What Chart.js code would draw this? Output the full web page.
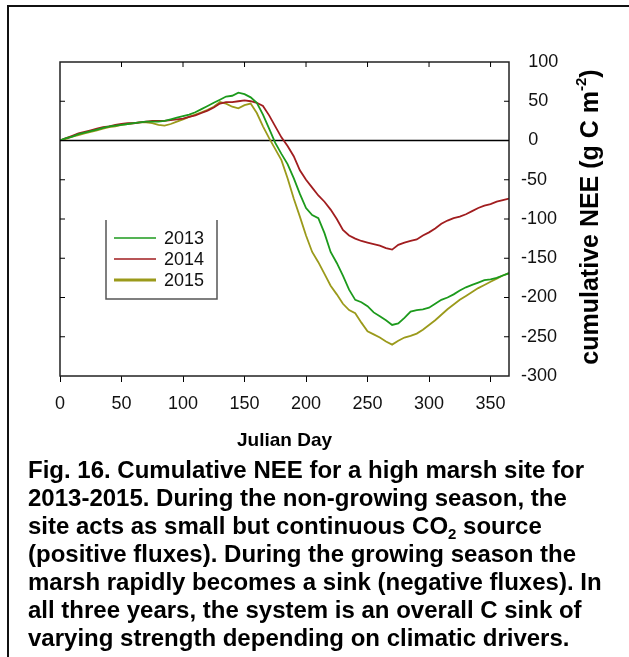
<!DOCTYPE html>
<html>
<head>
<meta charset="utf-8">
<script src="https://cdn.jsdelivr.net/npm/chart.js@4.4.1/dist/chart.umd.min.js"></script>
<style>
  html, body { margin: 0; padding: 0; background: #fff; }
  #fig { position: relative; width: 629px; height: 657px; overflow: hidden;
         font-family: "Liberation Sans", Arial, sans-serif; }
  #frameTop { position: absolute; left: 7px; top: 5px; right: 0; height: 2px; background: #111; }
  #frameLeft { position: absolute; left: 7px; top: 5px; width: 2px; bottom: 0; background: #111; }
  #chartBox { position: absolute; left: 0; top: 0; width: 629px; height: 460px; }
  #caption { position: absolute; left: 28px; top: 456px; font-weight: bold; font-size: 24px;
             line-height: 28px; color: #000; white-space: nowrap; }
  #caption sub { font-size: 15px; line-height: 0; vertical-align: baseline; position: relative; top: 5px; }
</style>
</head>
<body>
<div id="fig">
  <div id="chartBox"><canvas id="c" width="629" height="460"></canvas></div>
  <div id="frameTop"></div>
  <div id="frameLeft"></div>
  <div id="caption">
    <div>Fig. 16. Cumulative NEE for a high marsh site for</div>
    <div>2013-2015. During the non-growing season, the</div>
    <div>site acts as small but continuous CO<sub>2</sub> source</div>
    <div>(positive fluxes). During the growing season the</div>
    <div>marsh rapidly becomes a sink (negative fluxes). In</div>
    <div>all three years, the system is an overall C sink of</div>
    <div>varying strength depending on climatic drivers.</div>
  </div>
</div>
<script>
// Julian day of each sample
const days = [0,5,10,15,20,25,30,35,40,45,50,55,60,65,70,75,80,85,90,95,
  100,105,110,115,120,125,130,135,140,145,150,155,160,165,170,175,180,185,190,195,
  200,205,210,215,220,225,230,235,240,245,250,255,260,265,270,275,280,285,290,295,
  300,305,310,315,320,325,330,335,340,345,350,355,360,365];

// cumulative NEE (g C m-2)
const nee2013 = [0,3,5,8,10,12,14,16,18,19,20,21,22,23,24,24,24,25,27,29,
  31,33,36,40,44,48,52,56,57,61,59,55,48,33,15,-3,-17,-30,-48,-68,
  -86,-95,-99,-118,-142,-156,-172,-190,-203,-206,-211,-219,-224,-229,-235,-233,-226,-218,-216,-215,
  -213,-208,-203,-200,-196,-191,-187,-184,-181,-178,-177,-175,-172,-169];
const nee2014 = [0,3,6,9,11,13,15,17,18,20,21,22,22,23,24,25,25,25,26,27,
  28,30,32,35,38,42,47,49,49,50,51,50,48,44,32,18,4,-7,-20,-38,
  -50,-60,-70,-78,-88,-100,-114,-121,-125,-128,-130,-132,-134,-137,-139,-133,-130,-128,-126,-121,
  -117,-112,-106,-102,-99,-97,-94,-90,-86,-83,-81,-78,-76,-74];
const nee2015 = [0,2,5,7,9,11,13,15,17,18,20,21,22,23,23,22,20,19,21,24,
  27,30,33,36,39,43,49,47,43,41,45,47,35,18,3,-11,-25,-48,-74,-97,
  -121,-142,-155,-170,-185,-196,-208,-216,-220,-232,-243,-247,-251,-256,-260,-255,-251,-249,-246,-241,
  -235,-229,-222,-215,-209,-203,-198,-193,-188,-184,-180,-176,-172,-169];

const seriesNames = ['2013', '2014', '2015'];
const xTicks = [0, 50, 100, 150, 200, 250, 300, 350];
const yTicks = [100, 50, 0, -50, -100, -150, -200, -250, -300];

const FONT = '"Liberation Sans", Arial, sans-serif';
const colors = ['#1c9a1c', '#a11d1f', '#9b9a1b'];
const legendWidths = [1.5, 1.5, 3];

Chart.defaults.font.family = FONT;
Chart.defaults.color = '#000';

const toPoints = vals => vals.map((v, i) => ({ x: days[i], y: v }));

// frame with inward ticks and the zero reference line
const framePlugin = {
  id: 'frame',
  beforeDatasetsDraw(chart) {
    const { ctx, chartArea: a, scales: { y } } = chart;
    const y0 = y.getPixelForValue(0);
    ctx.save();
    ctx.strokeStyle = '#000';
    ctx.lineWidth = 1.5;
    ctx.beginPath();
    ctx.moveTo(a.left, y0);
    ctx.lineTo(a.right, y0);
    ctx.stroke();
    ctx.restore();
  },
  afterDatasetsDraw(chart) {
    const { ctx, chartArea: a, scales: { x, y } } = chart;
    ctx.save();
    ctx.strokeStyle = '#222';
    ctx.lineWidth = 1.5;
    ctx.strokeRect(a.left, a.top, a.right - a.left, a.bottom - a.top);
    ctx.lineWidth = 1;
    ctx.strokeStyle = '#000';
    ctx.beginPath();
    x.ticks.forEach(t => {
      const px = x.getPixelForValue(t.value);
      if (px <= a.left + 1 || px >= a.right - 1) return;
      ctx.moveTo(px, a.top);
      ctx.lineTo(px, a.top + 5);
    });
    y.ticks.forEach(t => {
      const py = y.getPixelForValue(t.value);
      if (py <= a.top + 1 || py >= a.bottom - 1) return;
      ctx.moveTo(a.left, py);
      ctx.lineTo(a.left + 5, py);
      ctx.moveTo(a.right, py);
      ctx.lineTo(a.right - 5, py);
    });
    ctx.stroke();
    ctx.restore();
  }
};

// open-topped legend box inside the plot
const legendPlugin = {
  id: 'boxLegend',
  afterDatasetsDraw(chart) {
    const { ctx } = chart;
    const L = 106, R = 217, T = 220, B = 299;
    ctx.save();
    ctx.strokeStyle = '#555';
    ctx.lineWidth = 1.5;
    ctx.beginPath();
    ctx.moveTo(L, T); ctx.lineTo(L, B); ctx.lineTo(R, B); ctx.lineTo(R, T);
    ctx.stroke();
    ctx.font = '18px ' + FONT;
    ctx.textBaseline = 'middle';
    ctx.textAlign = 'left';
    chart.data.datasets.forEach((ds, i) => {
      const yy = 238 + i * 21;
      ctx.strokeStyle = ds.borderColor;
      ctx.lineWidth = legendWidths[i];
      ctx.beginPath();
      ctx.moveTo(114, yy);
      ctx.lineTo(156, yy);
      ctx.stroke();
      ctx.fillStyle = '#111';
      ctx.fillText(ds.label, 164, yy + 1);
    });
    ctx.restore();
  }
};

// rotated axis title with a superscript exponent
const yTitlePlugin = {
  id: 'yTitle',
  afterDraw(chart) {
    const { ctx } = chart;
    const main = 'cumulative NEE (g C m', sup = '-2', close = ')';
    ctx.save();
    ctx.translate(591, 217);
    ctx.rotate(-Math.PI / 2);
    ctx.fillStyle = '#000';
    ctx.textBaseline = 'middle';
    ctx.textAlign = 'left';
    ctx.font = 'bold 25px ' + FONT;
    const w1 = ctx.measureText(main).width;
    const w3 = ctx.measureText(close).width;
    ctx.font = 'bold 15px ' + FONT;
    const w2 = ctx.measureText(sup).width;
    const x0 = -(w1 + w2 + w3) / 2;
    ctx.font = 'bold 25px ' + FONT;
    ctx.fillText(main, x0, 0);
    ctx.fillText(close, x0 + w1 + w2, 0);
    ctx.font = 'bold 15px ' + FONT;
    ctx.fillText(sup, x0 + w1, -9);
    ctx.restore();
  }
};

new Chart(document.getElementById('c'), {
  type: 'line',
  data: {
    datasets: [nee2013, nee2014, nee2015].map((vals, i) => ({
      label: seriesNames[i],
      data: toPoints(vals),
      borderColor: colors[i],
      borderWidth: 1.8,
      pointRadius: 0,
      tension: 0,
      fill: false
    }))
  },
  options: {
    responsive: false,
    animation: false,
    events: [],
    layout: { padding: { left: 60, top: 62, right: 0, bottom: 0 } },
    plugins: { legend: { display: false }, tooltip: { enabled: false } },
    scales: {
      x: {
        type: 'linear',
        position: 'bottom',
        min: 0,
        max: 365,
        afterBuildTicks: s => { s.ticks = xTicks.map(v => ({ value: v })); },
        afterFit: s => { s.height = 84; },
        ticks: { font: { size: 18 }, color: '#111', padding: 11, maxRotation: 0, autoSkip: false },
        grid: { drawOnChartArea: false, drawTicks: true, tickLength: 6, color: '#000', lineWidth: 1 },
        border: { display: false },
        title: { display: true, text: 'Julian Day', font: { size: 19, weight: 'bold' }, color: '#000',
                 padding: { top: 0, bottom: 8 } }
      },
      y: {
        type: 'linear',
        position: 'right',
        min: -300,
        max: 100,
        afterBuildTicks: s => { s.ticks = yTicks.map(v => ({ value: v })); },
        afterFit: s => { s.width = 120; },
        ticks: { font: { size: 18 }, color: '#111', padding: 12,
                 callback: v => (v < 0 ? String(v) : '\u2009\u2009' + v) },
        grid: { drawOnChartArea: false, drawTicks: false },
        border: { display: false }
      }
    }
  },
  plugins: [framePlugin, legendPlugin, yTitlePlugin]
});
</script>
</body>
</html>
